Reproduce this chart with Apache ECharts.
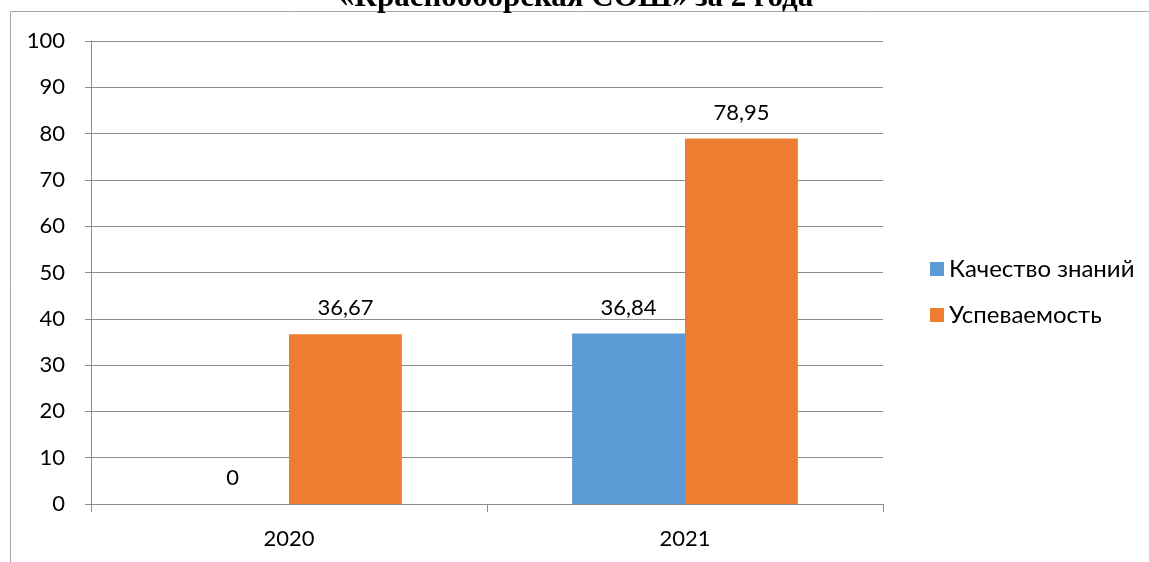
<!DOCTYPE html>
<html><head><meta charset="utf-8">
<script src="https://cdn.jsdelivr.net/npm/echarts@6/dist/echarts.min.js"></script>
<style>html,body{margin:0;padding:0;background:#fff}#c{width:1149px;height:562px}</style>
</head><body><div id="c"></div>
<script>
var titleText = '«Краснооборская СОШ» за 2 года';
var categories = ['2020', '2021'];
var seriesNames = ['Качество знаний', 'Успеваемость'];
var quality = [0, 36.84];
var progress = [36.67, 78.95];
var yTicks = {min: 0, max: 100, interval: 10};

var font = 'Lato, "Noto Sans", sans-serif';
var fmt = function (p) { return String(p.value).replace('.', ','); };
var chart = echarts.init(document.getElementById('c'));
chart.setOption({
  animation: false,
  graphic: [
    {type: 'rect', shape: {x: 10.5, y: 11.5, width: 1300, height: 700}, style: {fill: 'none', stroke: '#a6a6a6', lineWidth: 1}, silent: true},
    {type: 'text', left: 339, top: -18, style: {text: titleText, font: 'bold 31px "Liberation Serif", "Times New Roman", serif', fill: '#000'}}
  ],
  grid: {left: 91, right: 266, top: 41, bottom: 58},
  legend: {
    orient: 'vertical', left: 925, top: 252, itemWidth: 14, itemHeight: 14, itemGap: 22,
    icon: 'rect',
    textStyle: {fontFamily: font, fontSize: 24, color: '#000'},
    data: seriesNames
  },
  xAxis: {
    type: 'category', data: categories,
    axisLine: {lineStyle: {color: '#8c8c8c'}},
    axisTick: {show: true, length: 8, lineStyle: {color: '#8c8c8c'}},
    axisLabel: {fontFamily: font, fontSize: 22, color: '#000', margin: 24}
  },
  yAxis: {
    type: 'value', min: yTicks.min, max: yTicks.max, interval: yTicks.interval,
    axisLine: {show: true, lineStyle: {color: '#8c8c8c'}},
    axisTick: {show: true, length: 6, lineStyle: {color: '#8c8c8c'}},
    splitLine: {lineStyle: {color: '#8c8c8c'}},
    axisLabel: {fontFamily: font, fontSize: 22, color: '#000', margin: 26}
  },
  series: [
    {name: seriesNames[0], type: 'bar', data: quality, barGap: '0%', barCategoryGap: '43%',
     itemStyle: {color: '#5B9BD5'},
     label: {show: true, position: 'top', distance: 15, formatter: fmt, fontFamily: font, fontSize: 22, color: '#000'}},
    {name: seriesNames[1], type: 'bar', data: progress, barGap: '0%', barCategoryGap: '43%',
     itemStyle: {color: '#ED7D31'},
     label: {show: true, position: 'top', distance: 15, formatter: fmt, fontFamily: font, fontSize: 22, color: '#000'}}
  ]
});
</script></body></html>
